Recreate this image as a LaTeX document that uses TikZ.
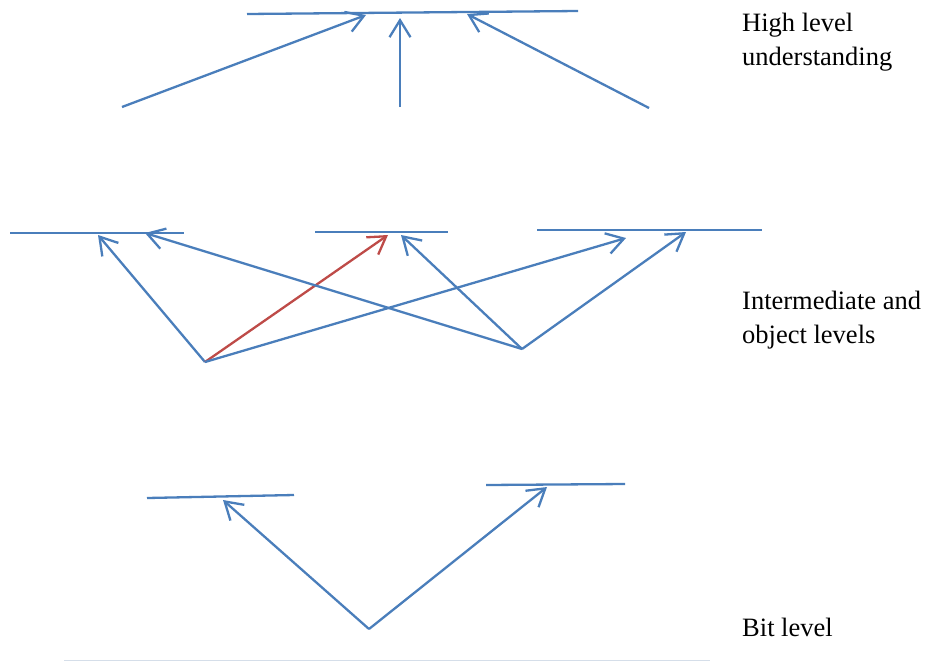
\documentclass[tikz,border=0pt]{standalone}
\usepackage{fontspec}
\setmainfont{Liberation Serif}
\usetikzlibrary{arrows.meta}

\definecolor{lineblue}{HTML}{4A7EBB}
\definecolor{linered}{HTML}{BE4B48}
\definecolor{faintline}{HTML}{D5DEE9}

\begin{document}
\begin{tikzpicture}[x=1pt,y=-1pt,
	levelbar/.style={draw=lineblue, line width=2.3pt},
	link/.style={draw=lineblue, line width=2.3pt, -{Straight Barb[length=17pt,width=21pt,line width=2.3pt]}},
	redlink/.style={link, draw=linered},
	caption/.style={anchor=north west, inner sep=0pt, align=left, font=\fontsize{26.5}{34}\selectfont},]
						\useasboundingbox (0,0) rectangle (925,662);
						% top level
						\coordinate (highL) at (247,14);
						\coordinate (highR) at (578,11);
						\coordinate (highA) at (366,15);
						\coordinate (highB) at (400,18);
						\coordinate (highC) at (467,14);
						\coordinate (src1) at (122,107);
						\coordinate (src2) at (400,107);
						\coordinate (src3) at (649,108);
						\draw[levelbar] (highL) -- (highR);
						\draw[link] (src1) -- (highA);
						\draw[link] (src2) -- (highB);
						\draw[link] (src3) -- (highC);

						% intermediate level
						\coordinate (midL1) at (10,233);
						\coordinate (midR1) at (184,233);
						\coordinate (midL2) at (315,232);
						\coordinate (midR2) at (448,232);
						\coordinate (midL3) at (537,230);
						\coordinate (midR3) at (762,230);
						\coordinate (objA) at (205,362);
						\coordinate (objB) at (522,349);
						\coordinate (tipA1) at (98,235);
						\coordinate (tipA2) at (388,235);
						\coordinate (tipA3) at (626,238);
						\coordinate (tipB1) at (145,233);
						\coordinate (tipB2) at (401,235);
						\coordinate (tipB3) at (686,232);
						\draw[levelbar] (midL1) -- (midR1);
						\draw[levelbar] (midL2) -- (midR2);
						\draw[levelbar] (midL3) -- (midR3);
						\draw[link] (objA) -- (tipA1);
						\draw[redlink] (objA) -- (tipA2);
						\draw[link] (objA) -- (tipA3);
						\draw[link] (objB) -- (tipB1);
						\draw[link] (objB) -- (tipB2);
						\draw[link] (objB) -- (tipB3);

						% bit level
						\coordinate (bitL1) at (147,498);
						\coordinate (bitR1) at (294,495);
						\coordinate (bitL2) at (486,485);
						\coordinate (bitR2) at (625,484);
						\coordinate (bitsrc) at (369,629);
						\coordinate (bitA) at (223,500);
						\coordinate (bitB) at (547,487);
						\draw[levelbar] (bitL1) -- (bitR1);
						\draw[levelbar] (bitL2) -- (bitR2);
						\draw[link] (bitsrc) -- (bitA);
						\draw[link] (bitsrc) -- (bitB);

						\coordinate (baseL) at (64,660.5);
						\coordinate (baseR) at (710,660.5);
						\draw[faintline, line width=1.2pt] (baseL) -- (baseR);

						% captions
						\node[caption] (high) at (742,13) {High level\\understanding};
						\node[caption] (mid) at (742,291) {Intermediate and\\object levels};
						\node[caption] (bit) at (742,618) {Bit level};
				\end{tikzpicture}
\end{document}
